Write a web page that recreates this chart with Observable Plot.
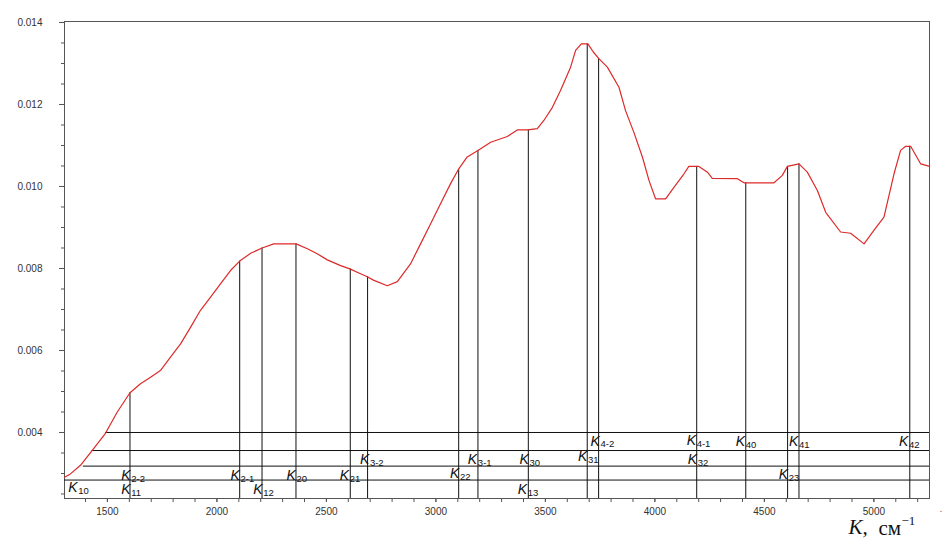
<!DOCTYPE html>
<html>
<head>
<meta charset="utf-8">
<script src="https://cdn.jsdelivr.net/npm/d3@7"></script>
<script src="https://cdn.jsdelivr.net/npm/@observablehq/plot@0.6"></script>
<style>
  html, body { margin: 0; padding: 0; background: #fff; }
  #chart svg { display: block; }
</style>
</head>
<body>
<div id="chart"></div>
<script>
// ---- data ----
const curveK = [1304, 1331, 1377, 1430, 1491, 1545, 1603, 1651, 1697, 1742, 1788, 1834, 1880, 1925, 1971, 2017, 2062, 2104, 2154, 2206, 2260, 2362, 2413, 2458, 2504, 2565, 2607, 2648, 2687, 2717, 2778, 2824, 2884, 2930, 2976, 3021, 3067, 3102, 3143, 3192, 3250, 3326, 3372, 3420, 3463, 3493, 3532, 3569, 3615, 3638, 3664, 3694, 3719, 3744, 3783, 3836, 3866, 3904, 3943, 3973, 4003, 4049, 4087, 4133, 4155, 4201, 4240, 4262, 4377, 4407, 4544, 4582, 4605, 4658, 4696, 4742, 4780, 4848, 4894, 4955, 5000, 5046, 5092, 5122, 5145, 5168, 5214, 5254];
const curveV = [0.00291, 0.00299, 0.00320, 0.00356, 0.00398, 0.00450, 0.00497, 0.00519, 0.00535, 0.00551, 0.00584, 0.00616, 0.00657, 0.00698, 0.00730, 0.00763, 0.00795, 0.00818, 0.00837, 0.00850, 0.00860, 0.00860, 0.00848, 0.00836, 0.00821, 0.00807, 0.00799, 0.00789, 0.00780, 0.00771, 0.00758, 0.00768, 0.00811, 0.00860, 0.00909, 0.00958, 0.01007, 0.01041, 0.01072, 0.01088, 0.01108, 0.01122, 0.01138, 0.01138, 0.01141, 0.01161, 0.01193, 0.01234, 0.01291, 0.01332, 0.01348, 0.01348, 0.01328, 0.01312, 0.01291, 0.01242, 0.01185, 0.01132, 0.01072, 0.01015, 0.00970, 0.00970, 0.00998, 0.01031, 0.01049, 0.01049, 0.01035, 0.01020, 0.01019, 0.01009, 0.01009, 0.01027, 0.01049, 0.01055, 0.01035, 0.00990, 0.00937, 0.00889, 0.00886, 0.00860, 0.00893, 0.00925, 0.01031, 0.01088, 0.01098, 0.01098, 0.01055, 0.01049];

// vertical marker lines: position and the curve value where they end
const vK   = [1603, 2104, 2206, 2361, 2609, 2688, 3104, 3192, 3422, 3691, 3743, 4191, 4415, 4606, 4658, 5164];
const vTop = [0.00497, 0.00818, 0.00850, 0.00860, 0.00799, 0.00780, 0.01041, 0.01088, 0.01138, 0.01348, 0.01312, 0.01049, 0.01009, 0.01049, 0.01055, 0.01098];

// horizontal level lines: level and start position
const hLevel = [0.00400, 0.00356, 0.00318, 0.00284];
const hStart = [1491, 1430, 1390, 1304];

// point labels K with subscript
const labelSub = ["10", "2-2", "11", "2-1", "12", "20", "21", "3-2", "22", "3-1", "30", "13", "31", "4-2", "4-1", "32", "40", "41", "23", "42"];
const labelK   = [1321, 1563, 1563, 2062, 2166, 2318, 2561, 2653, 3064, 3146, 3382, 3374, 3649, 3706, 4145, 4150, 4369, 4612, 4566, 5115];
const labelV   = [0.00265, 0.00295, 0.00260, 0.00295, 0.00261, 0.00295, 0.00295, 0.00333, 0.00300, 0.00333, 0.00333, 0.00260, 0.00341, 0.00379, 0.00380, 0.00333, 0.00378, 0.00378, 0.00297, 0.00378];

// axes
const xDomain = [1304, 5254];
const yDomain = [0.00239, 0.014024];
const xTicks = [1500, 2000, 2500, 3000, 3500, 4000, 4500, 5000];
const xMinor = d3.range(1400, 5254, 100);
const yTicks = [0.004, 0.006, 0.008, 0.010, 0.012, 0.014];
const yMinor = d3.range(0.0025, 0.01401, 0.0005);

const curve = curveK.map((k, i) => ({k, v: curveV[i]}));
const verts = vK.map((k, i) => ({k, top: vTop[i]}));
const hors = hLevel.map((v, i) => ({v, start: hStart[i]}));
const labels = labelSub.map((s, i) => ({s, k: labelK[i], v: labelV[i]}));

const serif = "'Liberation Serif', 'Times New Roman', serif";

const plot = Plot.plot({
  width: 943,
  height: 556,
  marginLeft: 64,
  marginTop: 21,
  marginRight: 14,
  marginBottom: 58,
  style: {fontFamily: "'Liberation Sans', Arial, sans-serif", background: "#fff", color: "#222"},
  x: {domain: xDomain, axis: null},
  y: {domain: yDomain, axis: null},
  marks: [
    Plot.frame({stroke: "#555"}),
    Plot.axisY({ticks: yTicks, tickFormat: d3.format(".3f"), tickSize: 5, tickPadding: 17, fontSize: 10, stroke: "#555", fill: "#333", label: null}),
    Plot.axisY({ticks: yMinor, tickSize: 3, text: null, stroke: "#555", label: null}),
    Plot.axisX({ticks: xTicks, tickFormat: d => String(d), tickSize: 4, tickPadding: 5, fontSize: 10, stroke: "#555", fill: "#333", label: null}),
    Plot.axisX({ticks: xMinor, tickSize: 4, text: null, stroke: "#555", label: null}),
    Plot.ruleY(hors, {y: "v", x1: "start", x2: xDomain[1], stroke: "#111", strokeWidth: 1}),
    Plot.ruleX(verts, {x: "k", y1: yDomain[0], y2: "top", stroke: "#111", strokeWidth: 1}),
    Plot.line(curve, {x: "k", y: "v", stroke: "#dd2a2a", strokeWidth: 1.2}),
    Plot.text(labels, {x: "k", y: "v", text: () => "K", textAnchor: "start", fontStyle: "italic", fontSize: 14, fill: "#111"}),
    Plot.text(labels, {x: "k", y: "v", text: "s", textAnchor: "start", dx: 10, dy: 3, fontSize: 9.5, fill: "#111"}),
    Plot.text(["K,"], {frameAnchor: "bottom-right", textAnchor: "start", dx: -81, dy: 35, fontSize: 21, fontStyle: "italic", fontFamily: serif, fill: "#111"}),
    Plot.text(["см"], {frameAnchor: "bottom-right", textAnchor: "start", dx: -51, dy: 36, fontSize: 21, fontFamily: serif, fill: "#111"}),
    Plot.text(["−1"], {frameAnchor: "bottom-right", textAnchor: "start", dx: -28, dy: 26, fontSize: 13, fontFamily: serif, fill: "#111"}),
    Plot.text(["."], {frameAnchor: "bottom-right", textAnchor: "start", dx: 10, dy: 13, fontSize: 10, fill: "#666"})
  ]
});
document.getElementById("chart").appendChild(plot);
</script>
</body>
</html>
